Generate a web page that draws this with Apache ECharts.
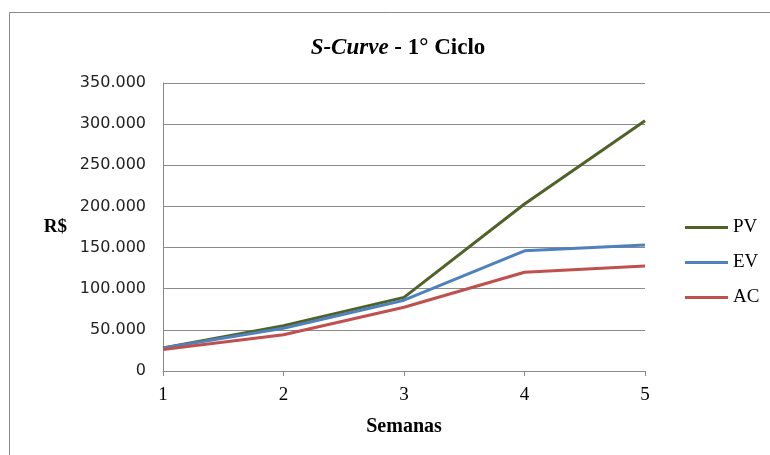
<!DOCTYPE html>
<html><head><meta charset="utf-8">
<script src="https://cdn.jsdelivr.net/npm/echarts@6/dist/echarts.min.js"></script>
<style>html,body{margin:0;padding:0;background:#fff}#c{width:770px;height:455px}</style>
</head><body><div id="c"></div>
<script>
const categories = ['1', '2', '3', '4', '5'];
const pv = [28000, 55000, 89500, 203000, 304000];
const ev = [28000, 52000, 86000, 146000, 153000];
const ac = [26000, 44000, 77500, 120000, 127500];
const yTicks = { min: 0, max: 350000, interval: 50000 };

const chart = echarts.init(document.getElementById('c'));
const serif = '"Liberation Serif", "Times New Roman", serif';
const sans = '"DejaVu Sans", sans-serif';
function fmt(v) { return v === 0 ? '0' : (v / 1000).toFixed(0) + '.000'; }
chart.setOption({
  animation: false,
  title: {
    text: '{i|S-Curve}{n| - 1° Ciclo}',
    left: 393, top: 32, textAlign: 'center',
    textStyle: {
      rich: {
        i: { fontFamily: serif, fontSize: 23, fontWeight: 'bold', fontStyle: 'italic', color: '#000' },
        n: { fontFamily: serif, fontSize: 23, fontWeight: 'bold', color: '#000' }
      }
    }
  },
  graphic: [{
    type: 'rect', shape: { x: 9.5, y: 12.5, width: 800, height: 500 },
    style: { fill: 'none', stroke: '#8a8a8a', lineWidth: 1 }, silent: true
  }],
  legend: {
    orient: 'vertical', left: 680, top: 213, itemGap: 16, itemWidth: 43, itemHeight: 3,
    icon: 'rect',
    textStyle: { fontFamily: serif, fontSize: 19, color: '#000' },
    data: ['PV', 'EV', 'AC']
  },
  grid: { left: 163, right: 125, top: 83, bottom: 84 },
  xAxis: {
    type: 'category', data: categories, boundaryGap: false,
    name: 'Semanas', nameLocation: 'middle', nameGap: 46,
    nameTextStyle: { fontFamily: serif, fontSize: 20, fontWeight: 'bold', color: '#000' },
    axisLine: { lineStyle: { color: '#8a8a8a', width: 1 } },
    axisTick: { show: true, length: 5, lineStyle: { color: '#8a8a8a' } },
    axisLabel: { fontFamily: serif, fontSize: 19, color: '#000', margin: 15 },
    splitLine: { show: false }
  },
  yAxis: {
    type: 'value', min: yTicks.min, max: yTicks.max, interval: yTicks.interval,
    name: 'R$', nameLocation: 'middle', nameRotate: 0, nameGap: 96,
    nameTextStyle: { fontFamily: serif, fontSize: 19, fontWeight: 'bold', color: '#000' },
    axisLine: { show: true, lineStyle: { color: '#8a8a8a', width: 1 } },
    axisTick: { show: false },
    axisLabel: { fontFamily: sans, fontSize: 16, color: '#222', margin: 17, formatter: fmt },
    splitLine: { lineStyle: { color: '#8a8a8a', width: 1 } }
  },
  series: [
    { name: 'PV', type: 'line', data: pv, symbol: 'none', lineStyle: { width: 3, color: '#4F6228' }, itemStyle: { color: '#4F6228' } },
    { name: 'EV', type: 'line', data: ev, symbol: 'none', lineStyle: { width: 3, color: '#4F81BD' }, itemStyle: { color: '#4F81BD' } },
    { name: 'AC', type: 'line', data: ac, symbol: 'none', lineStyle: { width: 3, color: '#C0504D' }, itemStyle: { color: '#C0504D' } }
  ]
});
</script></body></html>
